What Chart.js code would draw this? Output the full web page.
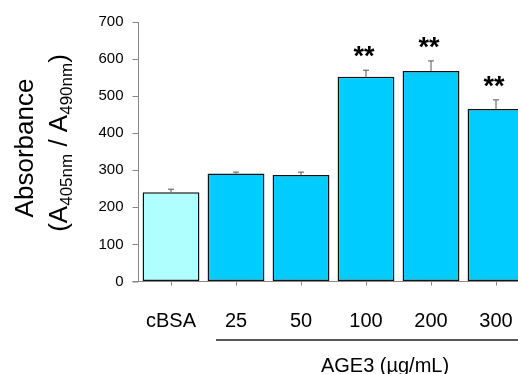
<!DOCTYPE html>
<html>
<head>
<meta charset="utf-8">
<script src="https://cdn.jsdelivr.net/npm/chart.js@4"></script>
<style>
  html, body { margin: 0; padding: 0; background: #fff; overflow: hidden; }
  #wrap { width: 518px; height: 374px; overflow: hidden; }
</style>
</head>
<body>
<div id="wrap"><canvas id="chart" width="540" height="374"></canvas></div>
<script>
// data
const categories = ["cBSA", "25", "50", "100", "200", "300"];
const absorbance = [241, 291, 287, 552, 568, 465];
const errorTop = [249, 295, 295, 570, 595, 490];
const marks = ["", "", "", "**", "**", "**"];
const barColors = ["#AFFFFF", "#00CCFF", "#00CCFF", "#00CCFF", "#00CCFF", "#00CCFF"];
const yTicks = [0, 100, 200, 300, 400, 500, 600, 700];
const groupLabel = "AGE3 (µg/mL)";

const FONT = "'Liberation Sans', Arial, sans-serif";

// error bars (upper only) + stars
const errorBars = {
  id: "errorBars",
  afterDatasetsDraw(chart) {
    const ctx = chart.ctx;
    const meta = chart.getDatasetMeta(0);
    const y = chart.scales.y;
    ctx.save();
    meta.data.forEach((bar, i) => {
      const top = y.getPixelForValue(errorTop[i]);
      ctx.strokeStyle = "#555";
      ctx.lineWidth = 1;
      ctx.beginPath();
      ctx.moveTo(bar.x, bar.y);
      ctx.lineTo(bar.x, top);
      ctx.moveTo(bar.x - 3, top);
      ctx.lineTo(bar.x + 3, top);
      ctx.stroke();
      if (marks[i]) {
        ctx.fillStyle = "#000";
        ctx.font = "bold 27px " + FONT;
        ctx.textAlign = "center";
        ctx.textBaseline = "alphabetic";
        ctx.fillText(marks[i], bar.x - 2, top - 5);
      }
    });
    ctx.restore();
  }
};

// y title with subscripts, group line below the axis
const extras = {
  id: "extras",
  afterDraw(chart) {
    const ctx = chart.ctx;
    const a = chart.chartArea;
    ctx.save();
    ctx.fillStyle = "#000";
    ctx.textBaseline = "alphabetic";

    // line 1
    ctx.save();
    ctx.translate(33, 148);
    ctx.rotate(-Math.PI / 2);
    ctx.font = "26px " + FONT;
    ctx.textAlign = "center";
    ctx.fillText("Absorbance", 0, 0);
    ctx.restore();

    // line 2, with subscripts
    const parts = [
      ["(A", false], ["405nm", true], [" / A", false], ["490nm", true], [")", false]
    ];
    const big = "26px " + FONT, small = "17px " + FONT;
    let total = 0;
    parts.forEach(p => { ctx.font = p[1] ? small : big; total += ctx.measureText(p[0]).width; });
    ctx.save();
    ctx.translate(66.5, 143);
    ctx.rotate(-Math.PI / 2);
    ctx.textAlign = "left";
    let x = -total / 2;
    parts.forEach(p => {
      ctx.font = p[1] ? small : big;
      ctx.fillText(p[0], x, p[1] ? 5 : 0);
      x += ctx.measureText(p[0]).width;
    });
    ctx.restore();

    // group line + label
    const xs = chart.scales.x;
    const x1 = xs.getPixelForValue(1) - 20;
    ctx.strokeStyle = "#222";
    ctx.lineWidth = 1.5;
    ctx.beginPath();
    ctx.moveTo(x1, 340);
    ctx.lineTo(a.right + 20, 340);
    ctx.stroke();
    ctx.font = "20px " + FONT;
    ctx.textAlign = "center";
    ctx.textBaseline = "middle";
    ctx.fillText(groupLabel, 385, 366);

    // axis line runs a little past the y axis, as in the original
    ctx.strokeStyle = "#888";
    ctx.lineWidth = 1;
    ctx.beginPath();
    ctx.moveTo(a.left - 6, a.bottom + 0.5);
    ctx.lineTo(a.left, a.bottom + 0.5);
    ctx.stroke();
    ctx.restore();
  }
};

new Chart(document.getElementById("chart"), {
  type: "bar",
  data: {
    labels: categories,
    datasets: [{
      data: absorbance,
      backgroundColor: barColors,
      borderColor: "#111",
      borderWidth: 1.5,
      borderSkipped: false,
      barPercentage: 0.875,
      categoryPercentage: 1
    }]
  },
  options: {
    responsive: false,
    animation: false,
    events: [],
    layout: { padding: { top: 22, right: 11.5, left: 0, bottom: 0 } },
    plugins: { legend: { display: false }, tooltip: { enabled: false } },
    scales: {
      x: {
        offset: true,
        grid: { offset: false, drawOnChartArea: false, drawTicks: true, tickLength: 4, color: "#888" },
        border: { color: "#888", width: 1 },
        ticks: { color: "#000", font: { size: 20, family: FONT }, padding: 24, maxRotation: 0 },
        afterFit(s) { s.height = 92.5; }
      },
      y: {
        min: 0,
        max: 700,
        afterBuildTicks(s) { s.ticks = yTicks.map(v => ({ value: v })); },
        grid: { drawOnChartArea: false, drawTicks: true, tickLength: 6, color: "#888" },
        border: { color: "#888", width: 1 },
        ticks: { color: "#000", font: { size: 15, family: FONT }, padding: 9 },
        afterFit(s) { s.width = 138.5; }
      }
    }
  },
  plugins: [errorBars, extras]
});
</script>
</body>
</html>
